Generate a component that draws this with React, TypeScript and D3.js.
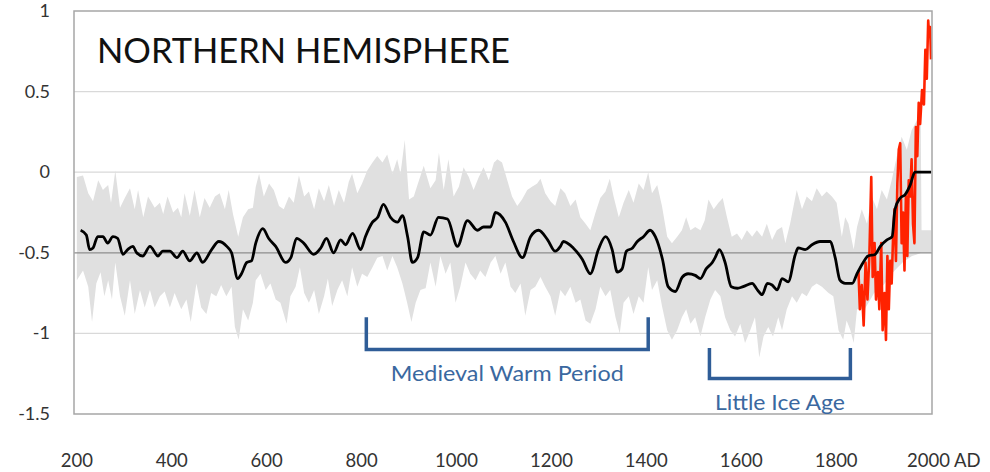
import { useEffect, useRef } from "react";
import * as d3 from "d3";

type Pt = [number, number];

// smoothed reconstruction (black)
const meanSeries: Pt[] = [
  [208,-0.36],[220,-0.39],[227,-0.48],[234,-0.47],[244,-0.40],[255,-0.40],[265,-0.44],[276,-0.40],[286,-0.41],[297,-0.51],
  [307,-0.48],[318,-0.46],[326,-0.50],[339,-0.52],[354,-0.46],[371,-0.52],[381,-0.49],[396,-0.49],[411,-0.53],[423,-0.49],
  [438,-0.55],[453,-0.50],[465,-0.56],[484,-0.48],[499,-0.43],[516,-0.46],[526,-0.50],[539,-0.66],[547,-0.63],[558,-0.56],
  [568,-0.55],[577,-0.44],[592,-0.35],[604,-0.41],[619,-0.46],[640,-0.56],[651,-0.53],[663,-0.41],[678,-0.44],[699,-0.51],
  [714,-0.47],[726,-0.41],[741,-0.50],[756,-0.42],[766,-0.45],[781,-0.38],[798,-0.48],[808,-0.40],[823,-0.31],[834,-0.28],
  [846,-0.20],[861,-0.28],[876,-0.31],[886,-0.27],[897,-0.40],[907,-0.56],[918,-0.53],[931,-0.37],[945,-0.39],[962,-0.28],
  [981,-0.29],[1002,-0.46],[1023,-0.30],[1044,-0.36],[1057,-0.34],[1072,-0.34],[1082,-0.25],[1103,-0.31],[1120,-0.43],[1139,-0.53],
  [1156,-0.40],[1173,-0.36],[1192,-0.42],[1208,-0.49],[1219,-0.46],[1225,-0.43],[1246,-0.47],[1265,-0.54],[1282,-0.63],[1299,-0.48],
  [1314,-0.40],[1328,-0.48],[1339,-0.62],[1349,-0.60],[1358,-0.49],[1371,-0.47],[1381,-0.43],[1394,-0.40],[1408,-0.36],[1419,-0.40],
  [1434,-0.54],[1446,-0.71],[1461,-0.74],[1476,-0.65],[1488,-0.63],[1503,-0.64],[1514,-0.66],[1526,-0.60],[1539,-0.56],[1545,-0.53],
  [1554,-0.48],[1566,-0.56],[1579,-0.71],[1592,-0.72],[1604,-0.71],[1623,-0.69],[1634,-0.73],[1644,-0.76],[1655,-0.69],[1665,-0.70],
  [1676,-0.73],[1686,-0.66],[1699,-0.68],[1714,-0.51],[1720,-0.47],[1735,-0.48],[1749,-0.45],[1766,-0.43],[1787,-0.43],[1798,-0.53],
  [1808,-0.67],[1819,-0.69],[1834,-0.69],[1844,-0.63],[1857,-0.56],[1867,-0.52],[1882,-0.51],[1893,-0.46],[1907,-0.42],[1918,-0.40],
  [1924,-0.23],[1935,-0.16],[1945,-0.14],[1956,-0.08],[1966,0.0],[2000,0.0],
];

// uncertainty band, upper edge
const upperSeries: Pt[] = [
  [200,-0.03],[213,-0.02],[224,-0.13],[234,-0.18],[245,-0.05],[255,-0.11],[266,-0.08],[272,-0.19],[281,0.01],[291,-0.22],
  [301,-0.16],[312,-0.10],[322,-0.23],[329,-0.11],[340,-0.28],[350,-0.15],[364,-0.22],[375,-0.19],[382,-0.26],[391,-0.15],
  [403,-0.25],[413,-0.22],[420,-0.28],[427,-0.13],[438,-0.27],[448,-0.11],[459,-0.28],[469,-0.16],[480,-0.22],[491,-0.15],
  [501,-0.13],[512,-0.23],[520,-0.11],[529,-0.26],[540,-0.40],[550,-0.28],[561,-0.23],[571,-0.22],[577,-0.09],[584,-0.01],
  [594,-0.15],[605,-0.07],[615,-0.11],[626,-0.21],[636,-0.23],[647,-0.15],[657,-0.19],[668,-0.02],[679,-0.15],[689,-0.12],
  [700,-0.23],[710,-0.10],[721,-0.18],[731,-0.08],[742,-0.21],[752,-0.11],[763,-0.19],[773,-0.06],[780,-0.01],[791,-0.13],
  [801,-0.07],[812,0.01],[823,0.06],[833,0.10],[844,0.06],[854,0.11],[865,-0.01],[875,0.08],[882,-0.01],[891,0.20],
  [900,-0.17],[910,-0.15],[921,-0.05],[931,0.04],[945,-0.10],[956,-0.05],[963,0.12],[973,-0.11],[983,0.08],[994,-0.15],
  [1005,-0.09],[1015,0.03],[1026,-0.03],[1036,-0.11],[1047,-0.03],[1057,0.03],[1068,-0.05],[1079,0.06],[1086,0.08],[1096,0.06],
  [1107,-0.05],[1117,-0.15],[1128,-0.21],[1138,-0.17],[1149,-0.11],[1159,-0.09],[1170,-0.07],[1177,-0.04],[1187,-0.13],[1198,-0.18],
  [1208,-0.21],[1219,-0.10],[1229,-0.13],[1240,-0.21],[1251,-0.17],[1261,-0.28],[1272,-0.32],[1282,-0.36],[1293,-0.25],[1303,-0.16],
  [1314,-0.12],[1323,-0.04],[1331,-0.15],[1342,-0.28],[1352,-0.19],[1363,-0.11],[1373,-0.19],[1384,-0.07],[1394,-0.11],[1404,0.00],
  [1412,-0.13],[1423,-0.08],[1433,-0.21],[1444,-0.40],[1454,-0.44],[1465,-0.40],[1475,-0.36],[1484,-0.28],[1493,-0.36],[1503,-0.34],
  [1514,-0.36],[1523,-0.30],[1531,-0.17],[1542,-0.23],[1552,-0.19],[1561,-0.16],[1570,-0.28],[1580,-0.40],[1591,-0.38],[1601,-0.42],
  [1612,-0.36],[1623,-0.40],[1633,-0.36],[1644,-0.40],[1654,-0.32],[1665,-0.42],[1675,-0.36],[1686,-0.34],[1693,-0.44],[1703,-0.32],
  [1717,-0.11],[1728,-0.23],[1738,-0.15],[1749,-0.18],[1759,-0.10],[1770,-0.15],[1780,-0.12],[1791,-0.15],[1801,-0.19],[1812,-0.40],
  [1819,-0.28],[1826,-0.32],[1837,-0.48],[1844,-0.34],[1854,-0.23],[1865,-0.32],[1875,-0.15],[1886,-0.23],[1896,-0.11],[1907,-0.17],
  [1917,-0.05],[1928,0.10],[1938,0.22],[1949,0.14],[1959,0.26],[1970,0.32],[1978,0.39],[1980,-0.36],[2000,-0.36],
];

// uncertainty band, lower edge
const lowerSeries: Pt[] = [
  [200,-0.67],[213,-0.61],[224,-0.71],[232,-0.93],[241,-0.69],[250,-0.62],[258,-0.77],[266,-0.67],[274,-0.79],[281,-0.56],
  [291,-0.77],[301,-0.89],[312,-0.67],[322,-0.88],[333,-0.73],[343,-0.84],[354,-0.73],[364,-0.84],[375,-0.77],[385,-0.74],
  [396,-0.84],[406,-0.75],[420,-0.85],[431,-0.79],[440,-0.93],[452,-0.69],[462,-0.84],[473,-0.88],[483,-0.75],[494,-0.77],
  [504,-0.70],[515,-0.77],[526,-0.71],[533,-0.96],[541,-1.04],[550,-0.85],[561,-0.92],[571,-0.81],[577,-0.67],[587,-0.63],
  [598,-0.73],[608,-0.69],[619,-0.79],[629,-0.81],[642,-0.94],[650,-0.77],[661,-0.71],[670,-0.59],[679,-0.75],[689,-0.81],
  [700,-0.73],[710,-0.88],[721,-0.77],[729,-0.66],[738,-0.83],[749,-0.73],[759,-0.67],[770,-0.77],[780,-0.59],[791,-0.71],
  [801,-0.63],[812,-0.65],[823,-0.59],[833,-0.53],[844,-0.52],[854,-0.61],[865,-0.52],[875,-0.59],[886,-0.69],[896,-0.81],
  [905,-0.93],[914,-0.81],[924,-0.73],[935,-0.72],[945,-0.56],[956,-0.71],[966,-0.52],[977,-0.63],[987,-0.56],[998,-0.81],
  [1008,-0.71],[1019,-0.56],[1029,-0.63],[1040,-0.67],[1050,-0.61],[1061,-0.65],[1072,-0.56],[1082,-0.52],[1093,-0.63],[1103,-0.56],
  [1114,-0.71],[1124,-0.75],[1135,-0.69],[1145,-0.89],[1156,-0.73],[1166,-0.71],[1177,-0.65],[1187,-0.71],[1198,-0.77],[1208,-0.89],
  [1219,-0.73],[1229,-0.77],[1240,-0.71],[1251,-0.81],[1261,-0.79],[1272,-0.92],[1282,-0.94],[1293,-0.85],[1303,-0.71],[1314,-0.77],
  [1324,-0.73],[1335,-0.90],[1344,-1.00],[1352,-0.81],[1363,-0.77],[1373,-0.88],[1384,-0.77],[1394,-0.81],[1404,-0.59],[1412,-0.73],
  [1423,-0.67],[1433,-0.83],[1444,-0.98],[1454,-1.04],[1465,-0.98],[1475,-0.90],[1484,-0.85],[1493,-0.94],[1503,-0.90],[1514,-1.02],
  [1524,-0.90],[1535,-0.79],[1545,-0.73],[1556,-0.77],[1566,-0.90],[1577,-0.98],[1587,-1.02],[1598,-0.94],[1608,-1.06],[1619,-0.98],
  [1629,-0.90],[1638,-1.15],[1647,-1.02],[1657,-0.96],[1667,-1.02],[1678,-0.90],[1686,-0.98],[1696,-0.85],[1707,-0.77],[1717,-0.81],
  [1728,-0.75],[1738,-0.77],[1749,-0.71],[1759,-0.69],[1770,-0.71],[1784,-0.75],[1794,-0.77],[1805,-0.98],[1815,-1.04],[1822,-0.92],
  [1830,-0.98],[1837,-1.06],[1844,-0.85],[1860,-0.85],[1880,-0.75],[1900,-0.70],[1920,-0.62],[1940,-0.56],[1960,-0.52],[1980,-0.50],
  [2000,-0.50],
];

// instrumental record (red)
const instrumentalSeries: Pt[] = [
  [1847,-0.61],[1850,-0.85],[1854,-0.70],[1858,-0.95],[1862,-0.56],[1866,-0.79],[1870,-0.52],[1874,-0.03],[1877,-0.65],[1881,-0.44],
  [1884,-0.79],[1888,-0.62],[1891,-0.85],[1895,-0.44],[1898,-0.98],[1902,-0.75],[1905,-1.04],[1908,-0.52],[1911,-0.85],[1914,-0.55],
  [1917,-0.69],[1920,-0.40],[1923,-0.23],[1926,-0.55],[1929,-0.07],[1932,0.14],[1935,0.18],[1938,-0.44],[1941,-0.25],[1944,-0.61],
  [1947,-0.15],[1950,-0.52],[1953,-0.05],[1956,-0.15],[1959,0.08],[1962,-0.32],[1965,-0.44],[1968,0.28],[1971,0.10],[1974,0.43],
  [1977,0.30],[1981,0.51],[1985,0.42],[1988,0.76],[1991,0.58],[1994,0.94],[1996,0.84],[1998,0.90],[2000,0.70],
];

const yTicks = [-1.5, -1, -0.5, 0, 0.5, 1];
const xTicks = [200, 400, 600, 800, 1000, 1200, 1400, 1600, 1800, 2000];

// annotation brackets: [startYear, endYear, top, bottom], label
const periodNames = ["Medieval Warm Period", "Little Ice Age"];
const periodSpans: [number, number, number, number][] = [
  [810, 1404, -0.9, -1.1],
  [1533, 1830, -1.09, -1.28],
];
const periodLabelWidths = [233, 130];

const App = () => {
  const svgRef = useRef<SVGSVGElement | null>(null);

  useEffect(() => {
    if (!svgRef.current) return;
    const width = 990;
    const height = 472;
    const svg = d3.select(svgRef.current);
    svg.selectAll("*").remove();

    const x = d3.scaleLinear().domain([194, 2002]).range([74, 932]);
    const y = d3.scaleLinear().domain([-1.5, 1]).range([414, 11]);
    const [x0, x1] = x.range();
    const font = "Lato, 'Open Sans', sans-serif";

    svg.append("rect").attr("width", width).attr("height", height).attr("fill", "#fff");

    // grid
    svg
      .append("g")
      .selectAll("line")
      .data(yTicks.filter((t) => t !== -0.5 && t !== -1.5 && t !== 1))
      .join("line")
      .attr("x1", x0)
      .attr("x2", x1)
      .attr("y1", (d) => y(d))
      .attr("y2", (d) => y(d))
      .attr("stroke", "#d9d9d9")
      .attr("stroke-width", 1.2);

    // band
    const upperFn = d3.scaleLinear().domain(upperSeries.map((d) => d[0])).range(upperSeries.map((d) => d[1]));
    const lowerFn = d3.scaleLinear().domain(lowerSeries.map((d) => d[0])).range(lowerSeries.map((d) => d[1]));
    const bandYears = Array.from(new Set([...upperSeries, ...lowerSeries].map((d) => d[0]))).sort((a, b) => a - b);
    const area = d3
      .area<number>()
      .x((d) => x(d))
      .y0((d) => y(lowerFn(d)))
      .y1((d) => y(upperFn(d)));
    svg.append("path").datum(bandYears).attr("fill", "#e0e0e0").attr("d", area);

    // reference line at -0.5
    svg
      .append("line")
      .attr("x1", x0)
      .attr("x2", x1)
      .attr("y1", y(-0.5))
      .attr("y2", y(-0.5))
      .attr("stroke", "#8e8e8e")
      .attr("stroke-width", 1.3);

    const line = d3
      .line<Pt>()
      .x((d) => x(d[0]))
      .y((d) => y(d[1]));

    svg
      .append("path")
      .datum(instrumentalSeries)
      .attr("fill", "none")
      .attr("stroke", "#ff2200")
      .attr("stroke-width", 2.6)
      .attr("stroke-linejoin", "round")
      .attr("d", line);

    svg
      .append("path")
      .datum(meanSeries)
      .attr("fill", "none")
      .attr("stroke", "#000")
      .attr("stroke-width", 2.8)
      .attr("stroke-linejoin", "round")
      .attr("d", line.curve(d3.curveMonotoneX));

    // frame
    svg
      .append("rect")
      .attr("x", x0)
      .attr("y", y(1))
      .attr("width", x1 - x0)
      .attr("height", y(-1.5) - y(1))
      .attr("fill", "none")
      .attr("stroke", "#a6a6a6")
      .attr("stroke-width", 1.5);

    // y labels
    svg
      .append("g")
      .selectAll("text")
      .data(yTicks)
      .join("text")
      .attr("x", 50)
      .attr("y", (d) => y(d) + 6)
      .attr("text-anchor", "end")
      .attr("font-family", font)
      .attr("font-size", 18)
      .attr("fill", "#333")
      .text((d) => `${d}`);

    // x labels
    svg
      .append("g")
      .selectAll("text")
      .data(xTicks)
      .join("text")
      .attr("x", (d) => (d === 2000 ? x(d) - 24 : x(d)))
      .attr("y", 467)
      .attr("text-anchor", (d) => (d === 2000 ? "start" : "middle"))
      .attr("font-family", font)
      .attr("font-size", 18.5)
      .attr("fill", "#333")
      .text((d) => (d === 2000 ? "2000 AD" : `${d}`));

    // title
    svg
      .append("text")
      .attr("x", 97)
      .attr("y", 63)
      .attr("font-family", font)
      .attr("font-size", 34)
      .attr("textLength", 413)
      .attr("lengthAdjust", "spacingAndGlyphs")
      .attr("fill", "#111")
      .text("NORTHERN HEMISPHERE");

    // period brackets
    const bracket = svg.append("g");
    periodSpans.forEach(([a, b, top, bottom], i) => {
      bracket
        .append("path")
        .attr("d", `M${x(a)},${y(top)}V${y(bottom)}H${x(b)}V${y(top)}`)
        .attr("fill", "none")
        .attr("stroke", "#2f5d97")
        .attr("stroke-width", 3.5);
      bracket
        .append("text")
        .attr("x", x((a + b) / 2))
        .attr("y", y(bottom) + 31)
        .attr("text-anchor", "middle")
        .attr("font-family", font)
        .attr("font-size", 21)
        .attr("textLength", periodLabelWidths[i])
        .attr("lengthAdjust", "spacingAndGlyphs")
        .attr("fill", "#3a68a0")
        .text(periodNames[i]);
    });
  }, []);

  return (
    <svg
      ref={svgRef}
      width={990}
      height={472}
      style={{ position: "absolute", left: 0, top: 0 }}
    />
  );
};

export default App;
